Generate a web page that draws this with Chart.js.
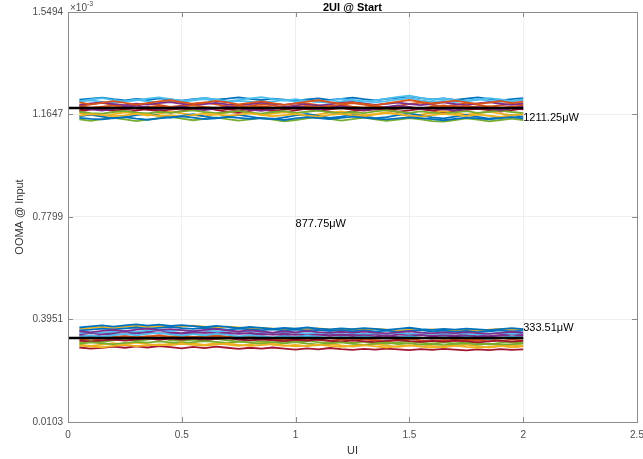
<!DOCTYPE html>
<html>
<head>
<meta charset="utf-8">
<script src="https://cdn.jsdelivr.net/npm/chart.js@4.4.1/dist/chart.umd.min.js"></script>
<style>
  html, body { margin: 0; padding: 0; background: #fff; }
  #wrap { width: 643px; height: 459px; }
</style>
</head>
<body>
<div id="wrap"><canvas id="c" width="643" height="459"></canvas></div>
<script>
// sample positions along UI (shared by every trace)
const uiPoints = [0.05,0.10,0.15,0.20,0.25,0.30,0.35,0.40,0.45,0.50,0.55,0.60,0.65,0.70,0.75,0.80,0.85,0.90,0.95,1.00,
                  1.05,1.10,1.15,1.20,1.25,1.30,1.35,1.40,1.45,1.50,1.55,1.60,1.65,1.70,1.75,1.80,1.85,1.90,1.95,2.00];

// upper eye level traces (x10^-3)
const upperTraces = [
  [1.152,1.148,1.146,1.151,1.155,1.149,1.145,1.150,1.154,1.158,1.153,1.147,1.150,1.156,1.152,1.148,1.151,1.149,1.144,1.150,1.155,1.151,1.147,1.152,1.157,1.153,1.149,1.146,1.150,1.154,1.151,1.147,1.143,1.148,1.153,1.150,1.146,1.151,1.155,1.150],
  [1.210,1.203,1.209,1.215,1.208,1.202,1.207,1.214,1.218,1.211,1.204,1.209,1.216,1.210,1.203,1.208,1.214,1.207,1.201,1.206,1.213,1.218,1.211,1.205,1.210,1.204,1.199,1.206,1.213,1.219,1.212,1.206,1.211,1.217,1.210,1.204,1.209,1.215,1.208,1.213],
  [1.160,1.166,1.163,1.158,1.161,1.167,1.164,1.159,1.162,1.157,1.163,1.168,1.165,1.160,1.164,1.169,1.163,1.158,1.162,1.166,1.161,1.157,1.163,1.167,1.162,1.158,1.164,1.170,1.166,1.160,1.157,1.162,1.167,1.163,1.159,1.164,1.160,1.156,1.161,1.165],
  [1.190,1.184,1.179,1.186,1.193,1.198,1.191,1.184,1.189,1.195,1.188,1.181,1.187,1.194,1.190,1.183,1.178,1.185,1.192,1.197,1.190,1.184,1.189,1.196,1.189,1.182,1.186,1.193,1.199,1.192,1.185,1.190,1.184,1.179,1.186,1.192,1.187,1.181,1.188,1.194],
  [1.175,1.170,1.168,1.174,1.178,1.172,1.169,1.175,1.171,1.176,1.180,1.174,1.170,1.173,1.178,1.172,1.168,1.174,1.177,1.171,1.175,1.179,1.173,1.169,1.174,1.170,1.176,1.181,1.175,1.171,1.176,1.172,1.168,1.173,1.177,1.171,1.175,1.179,1.174,1.170],
  [1.215,1.221,1.226,1.219,1.213,1.218,1.224,1.229,1.222,1.216,1.220,1.227,1.221,1.214,1.219,1.225,1.230,1.223,1.217,1.222,1.216,1.211,1.217,1.223,1.218,1.212,1.218,1.224,1.231,1.235,1.227,1.220,1.225,1.219,1.214,1.220,1.226,1.221,1.215,1.220],
  [1.181,1.186,1.183,1.179,1.184,1.188,1.182,1.178,1.183,1.187,1.181,1.185,1.190,1.184,1.180,1.185,1.182,1.178,1.183,1.188,1.185,1.180,1.184,1.189,1.183,1.179,1.184,1.181,1.186,1.191,1.185,1.180,1.184,1.188,1.182,1.186,1.181,1.185,1.189,1.184],
  [1.158,1.164,1.157,1.150,1.155,1.162,1.168,1.160,1.153,1.159,1.166,1.158,1.151,1.156,1.163,1.157,1.150,1.147,1.154,1.161,1.167,1.159,1.152,1.157,1.164,1.158,1.151,1.155,1.162,1.169,1.161,1.154,1.150,1.157,1.163,1.156,1.149,1.155,1.161,1.157],
  [1.195,1.190,1.194,1.198,1.192,1.188,1.193,1.197,1.191,1.195,1.199,1.193,1.189,1.194,1.198,1.192,1.196,1.191,1.187,1.193,1.197,1.192,1.196,1.200,1.194,1.190,1.195,1.191,1.196,1.192,1.188,1.194,1.199,1.193,1.197,1.191,1.195,1.190,1.194,1.198],
  [1.170,1.163,1.158,1.166,1.173,1.168,1.161,1.167,1.175,1.169,1.162,1.158,1.165,1.172,1.178,1.170,1.163,1.168,1.174,1.167,1.160,1.165,1.172,1.176,1.169,1.162,1.167,1.173,1.166,1.159,1.164,1.171,1.177,1.170,1.164,1.169,1.175,1.168,1.162,1.166],
  [1.201,1.206,1.210,1.204,1.200,1.205,1.202,1.207,1.211,1.205,1.200,1.204,1.208,1.203,1.199,1.204,1.209,1.205,1.201,1.206,1.202,1.198,1.203,1.208,1.212,1.206,1.201,1.205,1.209,1.204,1.200,1.205,1.210,1.204,1.200,1.206,1.211,1.205,1.201,1.206],
  [1.146,1.141,1.147,1.152,1.146,1.140,1.145,1.151,1.156,1.149,1.143,1.148,1.154,1.147,1.142,1.146,1.152,1.145,1.139,1.144,1.150,1.155,1.148,1.142,1.147,1.153,1.146,1.141,1.145,1.151,1.146,1.140,1.138,1.144,1.150,1.145,1.139,1.144,1.149,1.144],
  [1.214,1.218,1.212,1.209,1.215,1.220,1.214,1.210,1.216,1.212,1.218,1.222,1.215,1.211,1.216,1.213,1.209,1.214,1.219,1.213,1.217,1.212,1.208,1.214,1.219,1.215,1.210,1.215,1.221,1.226,1.218,1.212,1.216,1.211,1.217,1.222,1.216,1.212,1.217,1.221],
  [1.176,1.183,1.189,1.181,1.174,1.179,1.186,1.180,1.172,1.177,1.184,1.190,1.182,1.175,1.171,1.178,1.185,1.179,1.173,1.180,1.187,1.181,1.174,1.169,1.176,1.183,1.188,1.181,1.175,1.180,1.186,1.179,1.172,1.178,1.185,1.191,1.183,1.176,1.181,1.187],
  [1.220,1.224,1.228,1.222,1.218,1.223,1.219,1.225,1.221,1.217,1.222,1.226,1.220,1.224,1.229,1.223,1.219,1.224,1.220,1.216,1.221,1.225,1.219,1.223,1.228,1.222,1.218,1.223,1.227,1.233,1.226,1.221,1.225,1.219,1.224,1.229,1.223,1.218,1.222,1.226],
  [1.196,1.203,1.208,1.200,1.194,1.199,1.206,1.201,1.193,1.198,1.205,1.210,1.203,1.196,1.191,1.197,1.204,1.199,1.192,1.198,1.206,1.200,1.194,1.201,1.207,1.202,1.195,1.190,1.197,1.204,1.209,1.201,1.195,1.200,1.207,1.201,1.194,1.199,1.205,1.200]
];

// lower eye level traces (x10^-3)
const lowerTraces = [
  [0.297,0.293,0.291,0.296,0.300,0.295,0.298,0.302,0.299,0.304,0.300,0.297,0.301,0.305,0.300,0.296,0.299,0.303,0.298,0.294,0.297,0.301,0.296,0.292,0.296,0.299,0.294,0.290,0.295,0.298,0.293,0.290,0.294,0.297,0.292,0.289,0.293,0.296,0.291,0.294],
  [0.351,0.347,0.352,0.356,0.351,0.357,0.361,0.355,0.359,0.355,0.351,0.356,0.360,0.354,0.350,0.354,0.350,0.346,0.351,0.347,0.352,0.348,0.345,0.349,0.346,0.350,0.346,0.343,0.347,0.351,0.346,0.343,0.347,0.344,0.348,0.344,0.341,0.345,0.349,0.345],
  [0.304,0.309,0.306,0.302,0.307,0.311,0.308,0.313,0.309,0.305,0.310,0.314,0.311,0.307,0.312,0.308,0.304,0.309,0.306,0.310,0.305,0.301,0.306,0.309,0.304,0.300,0.305,0.308,0.303,0.306,0.301,0.304,0.299,0.303,0.306,0.301,0.304,0.300,0.303,0.305],
  [0.331,0.335,0.331,0.336,0.341,0.336,0.341,0.345,0.339,0.335,0.340,0.336,0.341,0.337,0.332,0.336,0.332,0.328,0.333,0.329,0.334,0.330,0.326,0.330,0.327,0.331,0.327,0.323,0.328,0.332,0.327,0.324,0.328,0.325,0.329,0.325,0.322,0.327,0.331,0.327],
  [0.316,0.312,0.317,0.320,0.316,0.321,0.324,0.319,0.323,0.320,0.324,0.318,0.322,0.325,0.320,0.317,0.321,0.318,0.314,0.319,0.316,0.320,0.315,0.312,0.317,0.313,0.310,0.315,0.318,0.314,0.311,0.315,0.312,0.316,0.313,0.309,0.313,0.316,0.312,0.315],
  [0.365,0.369,0.373,0.368,0.373,0.377,0.372,0.376,0.371,0.374,0.370,0.366,0.371,0.367,0.363,0.367,0.364,0.360,0.364,0.361,0.365,0.361,0.358,0.362,0.359,0.363,0.360,0.356,0.360,0.364,0.359,0.356,0.360,0.357,0.361,0.358,0.355,0.359,0.363,0.359],
  [0.324,0.328,0.325,0.330,0.333,0.329,0.332,0.335,0.331,0.334,0.330,0.333,0.336,0.331,0.328,0.332,0.329,0.325,0.329,0.326,0.322,0.327,0.324,0.328,0.323,0.326,0.322,0.325,0.321,0.324,0.327,0.322,0.325,0.321,0.324,0.320,0.323,0.326,0.321,0.324],
  [0.301,0.296,0.301,0.306,0.302,0.308,0.303,0.298,0.304,0.309,0.305,0.300,0.306,0.301,0.296,0.302,0.307,0.301,0.296,0.300,0.295,0.299,0.304,0.298,0.293,0.298,0.303,0.297,0.292,0.297,0.302,0.296,0.291,0.296,0.301,0.295,0.290,0.295,0.300,0.296],
  [0.336,0.333,0.338,0.341,0.338,0.343,0.346,0.342,0.345,0.341,0.344,0.347,0.343,0.340,0.344,0.341,0.337,0.340,0.336,0.339,0.335,0.338,0.334,0.337,0.333,0.336,0.332,0.335,0.331,0.334,0.337,0.332,0.335,0.331,0.334,0.330,0.333,0.336,0.332,0.335],
  [0.309,0.315,0.311,0.317,0.321,0.315,0.320,0.325,0.318,0.314,0.320,0.316,0.322,0.317,0.312,0.317,0.313,0.309,0.314,0.310,0.315,0.310,0.306,0.311,0.307,0.312,0.308,0.304,0.309,0.313,0.308,0.304,0.309,0.305,0.310,0.306,0.302,0.307,0.311,0.307],
  [0.344,0.348,0.345,0.350,0.353,0.349,0.354,0.357,0.352,0.355,0.351,0.354,0.350,0.353,0.349,0.352,0.348,0.345,0.349,0.346,0.342,0.346,0.343,0.347,0.344,0.340,0.344,0.341,0.345,0.342,0.339,0.343,0.340,0.344,0.341,0.338,0.342,0.345,0.341,0.344],
  [0.290,0.286,0.289,0.293,0.289,0.294,0.290,0.295,0.291,0.287,0.292,0.288,0.293,0.289,0.285,0.289,0.286,0.290,0.286,0.282,0.287,0.283,0.288,0.284,0.281,0.285,0.282,0.286,0.283,0.280,0.284,0.281,0.285,0.282,0.279,0.283,0.280,0.284,0.281,0.283],
  [0.354,0.357,0.361,0.358,0.362,0.365,0.361,0.364,0.367,0.363,0.360,0.364,0.361,0.357,0.361,0.358,0.355,0.358,0.354,0.357,0.353,0.356,0.352,0.355,0.351,0.354,0.350,0.353,0.349,0.352,0.355,0.350,0.353,0.349,0.352,0.348,0.351,0.354,0.350,0.353],
  [0.322,0.317,0.323,0.327,0.322,0.328,0.332,0.326,0.331,0.327,0.322,0.327,0.332,0.326,0.321,0.325,0.321,0.317,0.322,0.318,0.323,0.319,0.315,0.320,0.316,0.321,0.317,0.313,0.318,0.322,0.317,0.313,0.318,0.314,0.319,0.315,0.320,0.316,0.312,0.317],
  [0.360,0.364,0.367,0.363,0.368,0.371,0.367,0.370,0.366,0.369,0.372,0.368,0.364,0.368,0.365,0.361,0.364,0.361,0.357,0.361,0.358,0.362,0.358,0.355,0.359,0.356,0.360,0.357,0.353,0.357,0.354,0.358,0.355,0.352,0.356,0.353,0.357,0.360,0.356,0.359],
  [0.339,0.344,0.340,0.346,0.350,0.345,0.350,0.354,0.348,0.344,0.349,0.345,0.350,0.346,0.341,0.345,0.342,0.338,0.342,0.338,0.343,0.339,0.336,0.340,0.337,0.341,0.338,0.334,0.338,0.342,0.337,0.334,0.338,0.335,0.339,0.335,0.332,0.336,0.340,0.336]
];

// mean levels (black lines)
const meanX = [0, 2];
const upperMean = [1.189, 1.189];
const lowerMean = [0.326, 0.326];

// axis ticks
const yTicks = [0.0103, 0.3951, 0.7799, 1.1647, 1.5494];
const yTickLabels = ['0.0103', '0.3951', '0.7799', '1.1647', '1.5494'];
const xTicks = [0, 0.5, 1, 1.5, 2, 2.5];
const xTickLabels = ['0', '0.5', '1', '1.5', '2', '2.5'];

// text annotations
const annotations = [
  { x: 2.0, y: 1.151, text: '1211.25\u03bcW' },
  { x: 2.0, y: 0.364, text: '333.51\u03bcW' },
  { x: 1.0, y: 0.754, text: '877.75\u03bcW' }
];

const matlabColors = ['#0072BD','#D95319','#EDB120','#7E2F8E','#77AC30','#4DBEEE','#A2142F'];

const FONT = '"Liberation Sans", Arial, sans-serif';

function toPts(xs, ys) { return ys.map((v, i) => ({ x: xs[i], y: v })); }

const datasets = [];
upperTraces.concat(lowerTraces).forEach((tr, i) => {
  datasets.push({
    data: toPts(uiPoints, tr),
    borderColor: matlabColors[i % matlabColors.length],
    borderWidth: 1.8,
    pointRadius: 0,
    tension: 0,
    fill: false
  });
});
[upperMean, lowerMean].forEach(m => {
  datasets.push({
    data: toPts(meanX, m),
    borderColor: '#000000',
    borderWidth: 2.5,
    pointRadius: 0,
    tension: 0,
    fill: false,
    order: -1
  });
});

const decorations = {
  id: 'decorations',
  afterDraw(chart) {
    const { ctx, chartArea: a, scales } = chart;
    const xs = scales.x, ys = scales.y;
    ctx.save();
    // inward tick marks
    ctx.strokeStyle = '#8c8c8c';
    ctx.lineWidth = 1;
    ctx.beginPath();
    xTicks.forEach(v => {
      const px = Math.round(xs.getPixelForValue(v)) + 0.5;
      ctx.moveTo(px, a.bottom); ctx.lineTo(px, a.bottom - 5);
      ctx.moveTo(px, a.top); ctx.lineTo(px, a.top + 5);
    });
    yTicks.forEach(v => {
      const py = Math.round(ys.getPixelForValue(v)) + 0.5;
      ctx.moveTo(a.left, py); ctx.lineTo(a.left + 5, py);
      ctx.moveTo(a.right, py); ctx.lineTo(a.right - 5, py);
    });
    ctx.stroke();
    // box
    ctx.strokeRect(Math.round(a.left) + 0.5, Math.round(a.top) + 0.5, Math.round(a.right - a.left), Math.round(a.bottom - a.top));

    // annotations
    ctx.fillStyle = '#000';
    ctx.font = '11px ' + FONT;
    ctx.textAlign = 'left';
    ctx.textBaseline = 'middle';
    annotations.forEach(t => {
      ctx.fillText(t.text, xs.getPixelForValue(t.x), ys.getPixelForValue(t.y));
    });

    // title
    ctx.font = 'bold 11px ' + FONT;
    ctx.textAlign = 'center';
    ctx.textBaseline = 'middle';
    ctx.fillStyle = '#000';
    ctx.fillText('2UI @ Start', (a.left + a.right) / 2, 8);

    // exponent
    ctx.fillStyle = '#4d4d4d';
    ctx.font = '10px ' + FONT;
    ctx.textAlign = 'left';
    ctx.textBaseline = 'alphabetic';
    ctx.fillText('\u00d710', a.left + 2, 11);
    const w = ctx.measureText('\u00d710').width;
    ctx.font = '7px ' + FONT;
    ctx.fillText('-3', a.left + 2 + w, 6);

    // axis titles
    ctx.fillStyle = '#333';
    ctx.font = '11px ' + FONT;
    ctx.textAlign = 'center';
    ctx.textBaseline = 'middle';
    ctx.fillText('UI', (a.left + a.right) / 2, 451);
    ctx.translate(20, (a.top + a.bottom) / 2);
    ctx.rotate(-Math.PI / 2);
    ctx.fillText('OOMA @ Input', 0, 0);
    ctx.restore();
  }
};

new Chart(document.getElementById('c'), {
  type: 'line',
  data: { datasets },
  plugins: [decorations],
  options: {
    responsive: false,
    animation: false,
    layout: { padding: { left: 0, right: 6, top: 12, bottom: 0 } },
    plugins: { legend: { display: false }, tooltip: { enabled: false }, title: { display: false } },
    scales: {
      x: {
        type: 'linear',
        min: 0, max: 2.5,
        afterBuildTicks: s => { s.ticks = xTicks.map(v => ({ value: v })); },
        afterFit: s => { s.height = 37; s.paddingLeft = 0; s.paddingRight = 0; },
        grid: { color: '#efefef', drawTicks: false },
        border: { display: false },
        ticks: {
          padding: 7,
          color: '#4d4d4d',
          font: { family: FONT, size: 10 },
          maxRotation: 0,
          callback: (v, i) => xTickLabels[i]
        }
      },
      y: {
        type: 'linear',
        min: 0.0103, max: 1.5494,
        afterBuildTicks: s => { s.ticks = yTicks.map(v => ({ value: v })); },
        afterFit: s => { s.width = 68; s.paddingTop = 0; s.paddingBottom = 0; },
        grid: { color: '#efefef', drawTicks: false },
        border: { display: false },
        ticks: {
          padding: 5,
          color: '#4d4d4d',
          font: { family: FONT, size: 10 },
          callback: (v, i) => yTickLabels[i]
        }
      }
    }
  }
});
</script>
</body>
</html>
